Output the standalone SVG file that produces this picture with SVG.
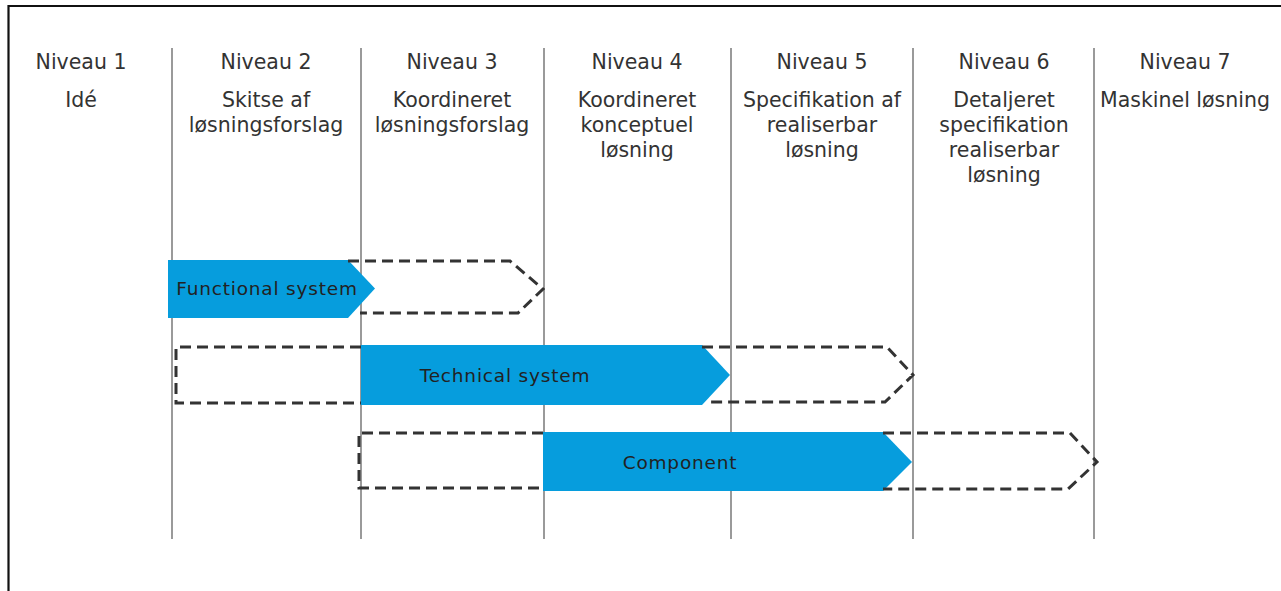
<svg xmlns="http://www.w3.org/2000/svg" width="1281" height="591" viewBox="0 0 1281 591">
<style>
.hdr{font-family:"DejaVu Sans","Verdana",sans-serif;font-size:20.5px;fill:#333;text-anchor:middle}
.lbl{font-family:"DejaVu Sans","Verdana",sans-serif;font-size:18.5px;letter-spacing:0.8px;fill:#222;text-anchor:middle}
.grid{stroke:#9a9a9a;stroke-width:2;fill:none}
.bar{fill:#069DDD}
.dash{fill:none;stroke:#333;stroke-width:3;stroke-dasharray:11 6;stroke-linejoin:miter}
</style>
<rect width="1281" height="591" fill="#fff"/>
<g id="frame" fill="none" stroke="#111" stroke-width="2.2">
<path d="M8.5,591 V6 H1281"/>
</g>
<g id="connectors" class="grid">
<path d="M172,48 V539"/>
<path d="M361,48 V539"/>
<path d="M544,48 V539"/>
<path d="M731,48 V539"/>
<path d="M913,48 V539"/>
<path d="M1094,48 V539"/>
</g>
<g id="niveau1"><text class="hdr" x="81" y="69">Niveau 1</text><text class="hdr" x="81" y="107">Idé</text></g>
<g id="niveau2"><text class="hdr" x="266" y="69">Niveau 2</text><text class="hdr" x="266" y="107">Skitse af</text><text class="hdr" x="266" y="132">løsningsforslag</text></g>
<g id="niveau3"><text class="hdr" x="452" y="69">Niveau 3</text><text class="hdr" x="452" y="107">Koordineret</text><text class="hdr" x="452" y="132">løsningsforslag</text></g>
<g id="niveau4"><text class="hdr" x="637" y="69">Niveau 4</text><text class="hdr" x="637" y="107">Koordineret</text><text class="hdr" x="637" y="132">konceptuel</text><text class="hdr" x="637" y="157">løsning</text></g>
<g id="niveau5"><text class="hdr" x="822" y="69">Niveau 5</text><text class="hdr" x="822" y="107">Specifikation af</text><text class="hdr" x="822" y="132">realiserbar</text><text class="hdr" x="822" y="157">løsning</text></g>
<g id="niveau6"><text class="hdr" x="1004" y="69">Niveau 6</text><text class="hdr" x="1004" y="107">Detaljeret</text><text class="hdr" x="1004" y="132">specifikation</text><text class="hdr" x="1004" y="157">realiserbar</text><text class="hdr" x="1004" y="182">løsning</text></g>
<g id="niveau7"><text class="hdr" x="1185" y="69">Niveau 7</text><text class="hdr" x="1185" y="107">Maskinel løsning</text></g>
<g id="functional-system">
<path class="bar" d="M168,260 H348 L375,288.5 L348,318 H168 Z"/>
<path class="dash" d="M348,261 H510 L543,289 L518,313 H360"/>
<text class="lbl" x="267" y="295">Functional system</text>
</g>
<g id="technical-system">
<path class="dash" d="M361,347 H176 V403 H361"/>
<path class="bar" d="M361,345 H702 L730,375 L702,405 H361 Z"/>
<path class="dash" d="M702,347 H887 L913,375 L885,402 H707"/>
<text class="lbl" x="505" y="382">Technical system</text>
</g>
<g id="component">
<path class="dash" d="M543,433 H359 V488 H543"/>
<path class="bar" d="M543,432 H883 L912,462 L883,491 H543 Z"/>
<path class="dash" d="M883,433 H1070 L1097,462 L1068,489 H883"/>
<text class="lbl" x="680" y="469">Component</text>
</g>
</svg>
